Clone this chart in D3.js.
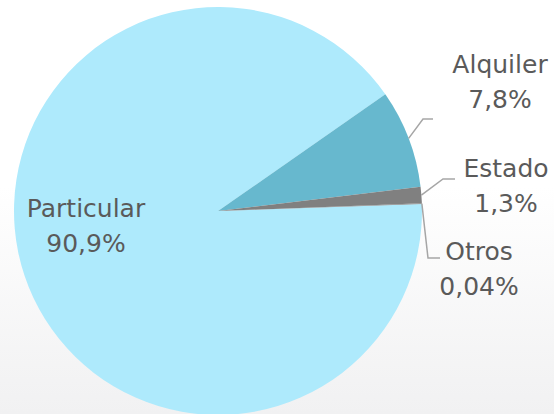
<!DOCTYPE html>
<html>
<head>
<meta charset="utf-8">
<script src="https://cdn.jsdelivr.net/npm/d3@7"></script>
<style>
  html, body { margin: 0; padding: 0; }
  body { width: 554px; height: 414px; overflow: hidden; }
  .lbl { font-family: "DejaVu Sans", sans-serif; font-size: 25px; fill: #5a5a5a; }
</style>
</head>
<body>
<div id="chart"></div>
<script>
// data
var categories = ["Particular", "Alquiler", "Estado", "Otros"];
var values = [90.9, 7.8, 1.3, 0.04];
var valueLabels = ["90,9%", "7,8%", "1,3%", "0,04%"];
var colors = ["#aeeafc", "#67b8ce", "#808080", "#808080"];

var svgWidth = 554;
var svgHeight = 414;
var cx = 218, cy = 211, radius = 204;

var svg = d3.select("#chart")
    .append("svg")
    .attr("width", svgWidth)
    .attr("height", svgHeight);

// soft background
var grad = svg.append("defs").append("linearGradient")
    .attr("id", "bg").attr("x1", 0).attr("y1", 0).attr("x2", 0).attr("y2", 1);
grad.append("stop").attr("offset", "0.45").attr("stop-color", "#ffffff");
grad.append("stop").attr("offset", "1").attr("stop-color", "#f1f1f2");
svg.append("rect").attr("width", svgWidth).attr("height", svgHeight).attr("fill", "url(#bg)");

var deg = Math.PI / 180;
var pie = d3.pie().sort(null)
    .startAngle(88 * deg)
    .endAngle(88 * deg + 2 * Math.PI);
var arc = d3.arc().innerRadius(0).outerRadius(radius);

var slices = pie(values).map(function(d, i) {
    d.name = categories[i];
    d.pct = valueLabels[i];
    return d;
});

var g = svg.append("g").attr("transform", `translate(${cx},${cy})`);

g.selectAll("path")
    .data(slices)
    .enter()
    .append("path")
    .attr("d", arc)
    .attr("fill", (d, i) => colors[i]);

// label layout (relative to the pie centre)
var layout = {
    Particular: { x: -132, y: 6, leader: null },
    Alquiler: { x: 282, y: -138, leader: [[205, -92], [215, -92]] },
    Estado: { x: 288, y: -34, leader: [[225, -32], [237, -32]] },
    Otros: { x: 261, y: 49, leader: [[210, 47], [222, 47]] }
};

function edgePoint(d) {
    var a = (d.startAngle + d.endAngle) / 2;
    return [Math.sin(a) * radius, -Math.cos(a) * radius];
}

var line = d3.line();

slices.forEach(function(d) {
    var l = layout[d.name];
    if (l.leader) {
        g.append("path")
            .attr("d", line([edgePoint(d)].concat(l.leader)))
            .attr("fill", "none")
            .attr("stroke", "#a6a6a6")
            .attr("stroke-width", 1.5);
    }
    var t = g.append("text")
        .attr("class", "lbl")
        .attr("text-anchor", "middle")
        .attr("x", l.x)
        .attr("y", l.y);
    t.append("tspan").attr("x", l.x).attr("dy", 0).text(d.name);
    t.append("tspan").attr("x", l.x).attr("dy", 35).text(d.pct);
});
</script>
</body>
</html>
